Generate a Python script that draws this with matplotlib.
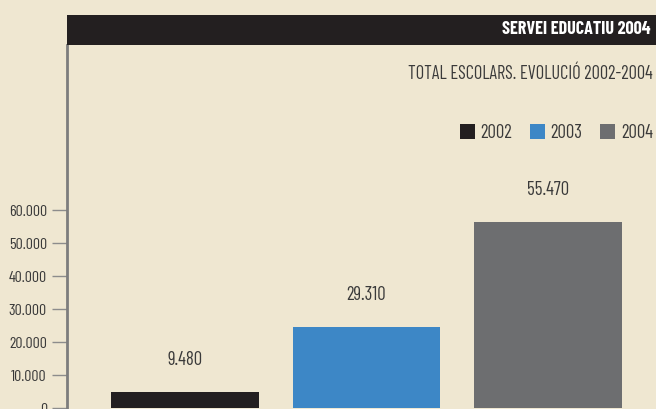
import numpy as np
import matplotlib
matplotlib.use("Agg")
import matplotlib.pyplot as plt
from matplotlib.patches import Rectangle, Patch
from matplotlib.ticker import FuncFormatter

# dades
anys = ["2002", "2003", "2004"]
escolars = [9480, 29310, 55470]          # etiquetes que mostra el grafic
alcada_barres = [4850, 24550, 56350]     # alcada real de les barres dibuixades
colors = ["#231f20", "#3d87c6", "#6d6e70"]
yticks = [0, 10000, 20000, 30000, 40000, 50000, 60000]

titol = "SERVEI EDUCATIU 2004"
subtitol = "TOTAL ESCOLARS. EVOLUCIÓ 2002-2004"

fons = "#efe7d1"
text_col = "#3a3a3a"
plt.rcParams['font.family'] = ['Barlow Condensed', 'DejaVu Sans']

W, H = 656, 409
fig = plt.figure(figsize=(W / 100, H / 100), dpi=100, facecolor=fons)

def fx(px):
    return px / W

def fy(py):
    return 1 - py / H

def punts(v):
    return f"{int(v):,}".replace(",", ".")

# capcalera negra
fig.patches.append(Rectangle((fx(67), fy(45)), fx(656) - fx(67), fy(15) - fy(45),
                             transform=fig.transFigure, facecolor="#231f20",
                             edgecolor="none", zorder=0))
fig.text(fx(650), fy(30), titol, color="white", fontsize=13, fontweight="bold",
         ha="right", va="center")
fig.text(fx(653), fy(74), subtitol, color=text_col, fontsize=13.2,
         ha="right", va="center")

ax = fig.add_axes([fx(67), 0, 1 - fx(67), fy(45)])
ax.set_facecolor(fons)

x = np.arange(len(anys))
ax.bar(x, alcada_barres, width=0.815, color=colors)
for xi, h, v in zip(x, alcada_barres, escolars):
    ax.annotate(punts(v), (xi, h), xytext=(0, 23),
                textcoords="offset points", ha="center", va="center",
                fontsize=13.5, color=text_col)

ax.set_xlim(-0.650, 2.595)
ax.set_ylim(-303, 110000)
ax.set_yticks(yticks)
ax.yaxis.set_major_formatter(FuncFormatter(lambda v, p: punts(v)))
ax.tick_params(axis="y", direction="out", length=11, width=1, color="#8c8c8c",
               labelsize=11.5, labelcolor=text_col, pad=3.5)
ax.set_xticks([])
for s in ["top", "right", "bottom"]:
    ax.spines[s].set_visible(False)
ax.spines["left"].set_color("#7d7d7d")
ax.spines["left"].set_linewidth(2)

handles = [Patch(facecolor=c, edgecolor="none") for c in colors]
fig.legend(handles, anys, ncol=3, loc="center right", bbox_to_anchor=(fx(653), fy(133)),
           frameon=False, fontsize=13.5, labelcolor=text_col, handlelength=0.8,
           handleheight=0.8, handletextpad=0.3, columnspacing=0.95,
           borderpad=0, borderaxespad=0)

fig.savefig("out.png", dpi=100, facecolor=fons)
